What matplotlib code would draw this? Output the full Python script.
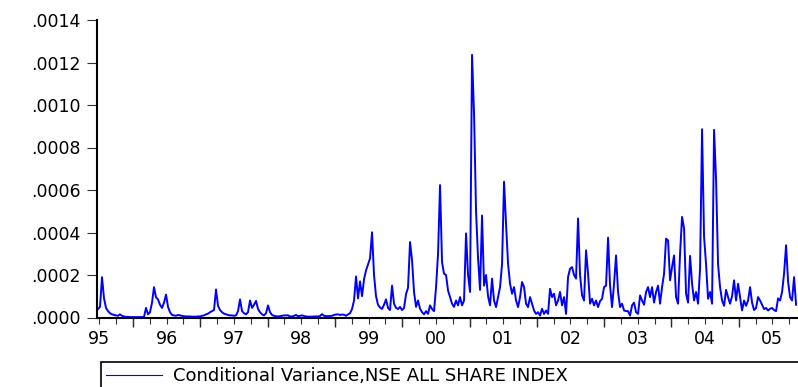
import numpy as np
import matplotlib
matplotlib.use("Agg")
import matplotlib.pyplot as plt
from matplotlib.ticker import FuncFormatter, MultipleLocator, FixedLocator

plt.rcParams['font.family'] = ['DejaVu Sans']

series_label = "Conditional Variance,NSE ALL SHARE INDEX"
start_year = 1995.48      # first observation (decimal year)
step_years = 0.02972      # spacing between observations
year_labels = ["95", "96", "97", "98", "99", "00", "01", "02", "03", "04", "05"]
label_years = [1995.5, 1996.5, 1997.5, 1998.5, 1999.5, 2000.5,
               2001.5, 2002.5, 2003.5, 2004.5, 2005.5]
year_bounds = [1996, 1997, 1998, 1999, 2000, 2001, 2002, 2003, 2004, 2005]
y_ticks = [0.0, 0.0002, 0.0004, 0.0006, 0.0008, 0.0010, 0.0012, 0.0014]

# conditional variance in units of 1e-6
cond_var_e6 = [
    # 1995-96
    40, 50, 190, 90, 45, 30, 20, 15, 12, 10, 8, 15, 8, 5, 3, 3, 2, 2, 2, 2,
    2, 2, 2, 3, 45, 15, 25, 70, 143, 95, 85, 60, 45, 70, 108, 50, 25, 12, 10, 8,
    12, 10, 8, 6, 5, 5,
    # 1996-97
    5, 4, 4, 4, 5, 5, 8, 10, 15, 18, 25, 30, 35, 132, 55, 35, 25, 18, 15, 12,
    10, 10, 8, 10, 30, 85, 30, 20, 15, 25, 80, 45, 60, 78, 40, 25, 15, 10, 20, 57,
    25, 12, 8, 6, 5, 6, 8, 10, 10, 10,
    # 1997-99
    5, 5, 8, 12, 6, 8, 10, 7, 5, 4, 4, 4, 5, 5, 5, 7, 16, 8, 7, 6,
    7, 8, 12, 14, 15, 12, 14, 13, 8, 15,
    20, 40, 80, 193, 90, 170, 100, 180, 222, 250, 278, 401, 200, 100, 60, 47, 40, 60, 85, 45,
    # 1999-2001
    35, 150, 65, 45, 40, 50, 35, 45, 110, 140, 355, 270, 120, 50, 80, 41, 25, 15, 30, 17,
    57, 40, 30, 143, 300, 623, 260, 206, 200, 127, 96, 65, 50, 80, 57, 96, 57, 80, 396, 200,
    120, 1236, 960, 500, 280, 130, 480, 150, 200, 100,
    # 2001-02
    57, 183, 80, 49, 96, 143, 250, 639, 440, 253, 159, 112, 143, 80, 49, 96, 167, 143, 65, 49,
    96, 65, 33, 17, 25, 9, 41, 17, 33, 17, 135, 96, 112, 57, 80, 120, 57, 96, 17, 190,
    230, 237, 200, 183, 466, 200, 104, 80, 316, 206,
    # 2002-04
    65, 88, 57, 80, 49, 77, 88, 143, 150, 376, 150, 49, 159, 292, 120, 49, 65, 33, 30, 30,
    9, 57, 70, 25, 17, 104, 80, 60, 120, 143, 96, 143, 70, 120, 150, 65, 143, 206, 371, 363,
    175, 237, 292, 96, 65, 301, 473, 419, 112, 70,
    # 2004-05
    290, 159, 80, 120, 65, 230, 886, 380, 250, 88, 120, 65, 883, 650, 250, 143, 80, 55, 130, 96,
    65, 100, 175, 80, 159, 96, 33, 80, 55, 80, 143, 70, 35, 45, 96, 80, 60, 40, 45, 33,
    41, 45, 35, 30, 90, 80, 120, 206, 340, 170, 96, 80, 190, 60,
]

values = np.array(cond_var_e6, dtype=float) * 1e-6
t = start_year + step_years * np.arange(len(values))

W, H = 798, 387
fig = plt.figure(figsize=(W / 100, H / 100), dpi=100)
x0, x1, ytop, ybot = 97, 798, 20, 317.5
ax = fig.add_axes([x0 / W, (H - ybot) / H, (x1 - x0) / W, (ybot - ytop) / H])

line, = ax.plot(t, values, color='#0000ff', lw=1.4, label=series_label)

ax.set_xlim(1995.465, 2005.881)
ax.set_ylim(0, 0.0014)

for s in ['top', 'right']:
    ax.spines[s].set_visible(False)
for s in ['left', 'bottom']:
    ax.spines[s].set_linewidth(1.5)
    ax.spines[s].set_color('black')

ax.yaxis.set_major_locator(FixedLocator(y_ticks))
ax.yaxis.set_major_formatter(FuncFormatter(lambda v, p: f"{v:.4f}".lstrip('0')))
ax.tick_params(axis='y', length=7.5, width=0.8, color='#333333', pad=4.5,
               labelsize=12.5, labelcolor='black')

ax.xaxis.set_major_locator(FixedLocator(label_years))
ax.set_xticklabels(year_labels)
ax.xaxis.set_minor_locator(MultipleLocator(0.25))
ax.tick_params(axis='x', which='major', length=4, width=0.8, color='#333333',
               pad=5, labelsize=12.5)
ax.tick_params(axis='x', which='minor', length=4, width=0.8, color='#333333')

sec = ax.secondary_xaxis('bottom')
sec.xaxis.set_major_locator(FixedLocator(year_bounds))
sec.tick_params(axis='x', length=6.5, width=1.0, color='#222222', labelbottom=False)
sec.xaxis.set_minor_locator(FixedLocator([]))
sec.spines['bottom'].set_visible(False)

leg = ax.legend(loc='upper left', bbox_to_anchor=(101 / W, 1 - 361.5 / H, 0.9, 0.0),
                bbox_transform=fig.transFigure, mode='expand', fontsize=13,
                handlelength=3.1, handletextpad=0.6, borderpad=0.3,
                borderaxespad=0, fancybox=False, framealpha=1, edgecolor='black')
leg.get_frame().set_linewidth(1.2)
leg.get_lines()[0].set_linewidth(0.8)

fig.savefig('out.png', dpi=100)
